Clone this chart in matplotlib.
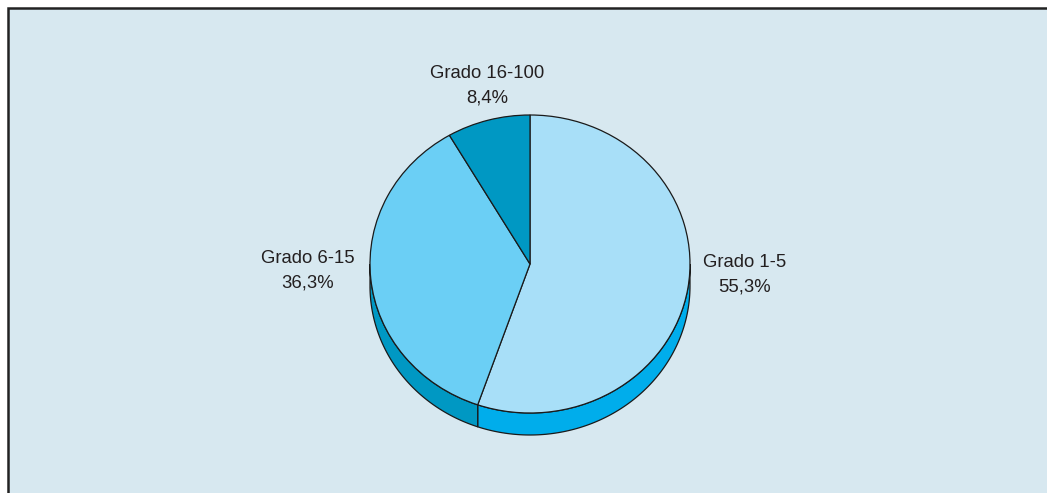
import numpy as np
import matplotlib
matplotlib.use("Agg")
import matplotlib.pyplot as plt
from matplotlib.patches import Wedge, Polygon, Rectangle
from matplotlib.transforms import Affine2D

# Distribution by grade
categories = ["Grado 1-5", "Grado 6-15", "Grado 16-100"]
shares = [55.3, 36.3, 8.4]
value_labels = ["55,3%", "36,3%", "8,4%"]

top_colors = ["#a8dff8", "#6bcff5", "#0098c3"]
side_colors = ["#00adeb", "#0098c3", "#0086ad"]
bg_color = "#d7e8f0"
edge = "#1a1a1a"

W, H = 1047, 493
fig = plt.figure(figsize=(W / 100, H / 100), dpi=100)
fig.patch.set_facecolor("white")
ax = fig.add_axes([0, 0, 1, 1])
ax.set_xlim(0, W)
ax.set_ylim(0, H)
ax.axis("off")

# framed panel (runs off the right and bottom edges)
ax.add_patch(Rectangle((7.5, -5), W, H - 7.5 + 5, facecolor=bg_color,
                       edgecolor="#222222", linewidth=1.8, zorder=0))

# pie geometry (pixel units, y up)
cx, cy = 530, H - 264
rx, ry = 160, 149
depth = 22

ellipse = Affine2D().scale(rx, ry).translate(cx, cy) + ax.transData

fractions = np.array(shares) / np.sum(shares)
starts = 90 - 360 * np.concatenate([[0], np.cumsum(fractions)[:-1]])
ends = starts - 360 * fractions


def side_piece(lo, hi, color):
    """Extruded rim for the part of [lo, hi] (deg) that faces the viewer."""
    lo_n = lo % 360
    hi_n = lo_n + (hi - lo)
    for shift in (0, -360, 360):
        a = max(lo_n + shift, 180)
        b = min(hi_n + shift, 360)
        if b > a:
            t = np.radians(np.linspace(a, b, 120))
            xs = cx + rx * np.cos(t)
            ys = cy + ry * np.sin(t)
            pts = np.concatenate([
                np.column_stack([xs, ys]),
                np.column_stack([xs[::-1], ys[::-1] - depth]),
            ])
            ax.add_patch(Polygon(pts, closed=True, facecolor=color,
                                 edgecolor=edge, linewidth=0.9, zorder=2))


for s, e, c in zip(starts, ends, side_colors):
    side_piece(e, s, c)

for s, e, c in zip(starts, ends, top_colors):
    ax.add_patch(Wedge((0, 0), 1, e, s, facecolor=c, edgecolor=edge,
                       linewidth=0.9, transform=ellipse, zorder=3))

# labels
label_pos = [(745, H - 275), (308, H - 271), (487.5, H - 86)]
for (x, y), cat, val in zip(label_pos, categories, value_labels):
    ax.text(x, y, f"{cat}\n{val}", ha="center", va="center",
            fontsize=13.3, family="Liberation Sans", color="#231f20",
            linespacing=1.55, zorder=4)

fig.savefig("out.png", dpi=100, facecolor=fig.get_facecolor())
